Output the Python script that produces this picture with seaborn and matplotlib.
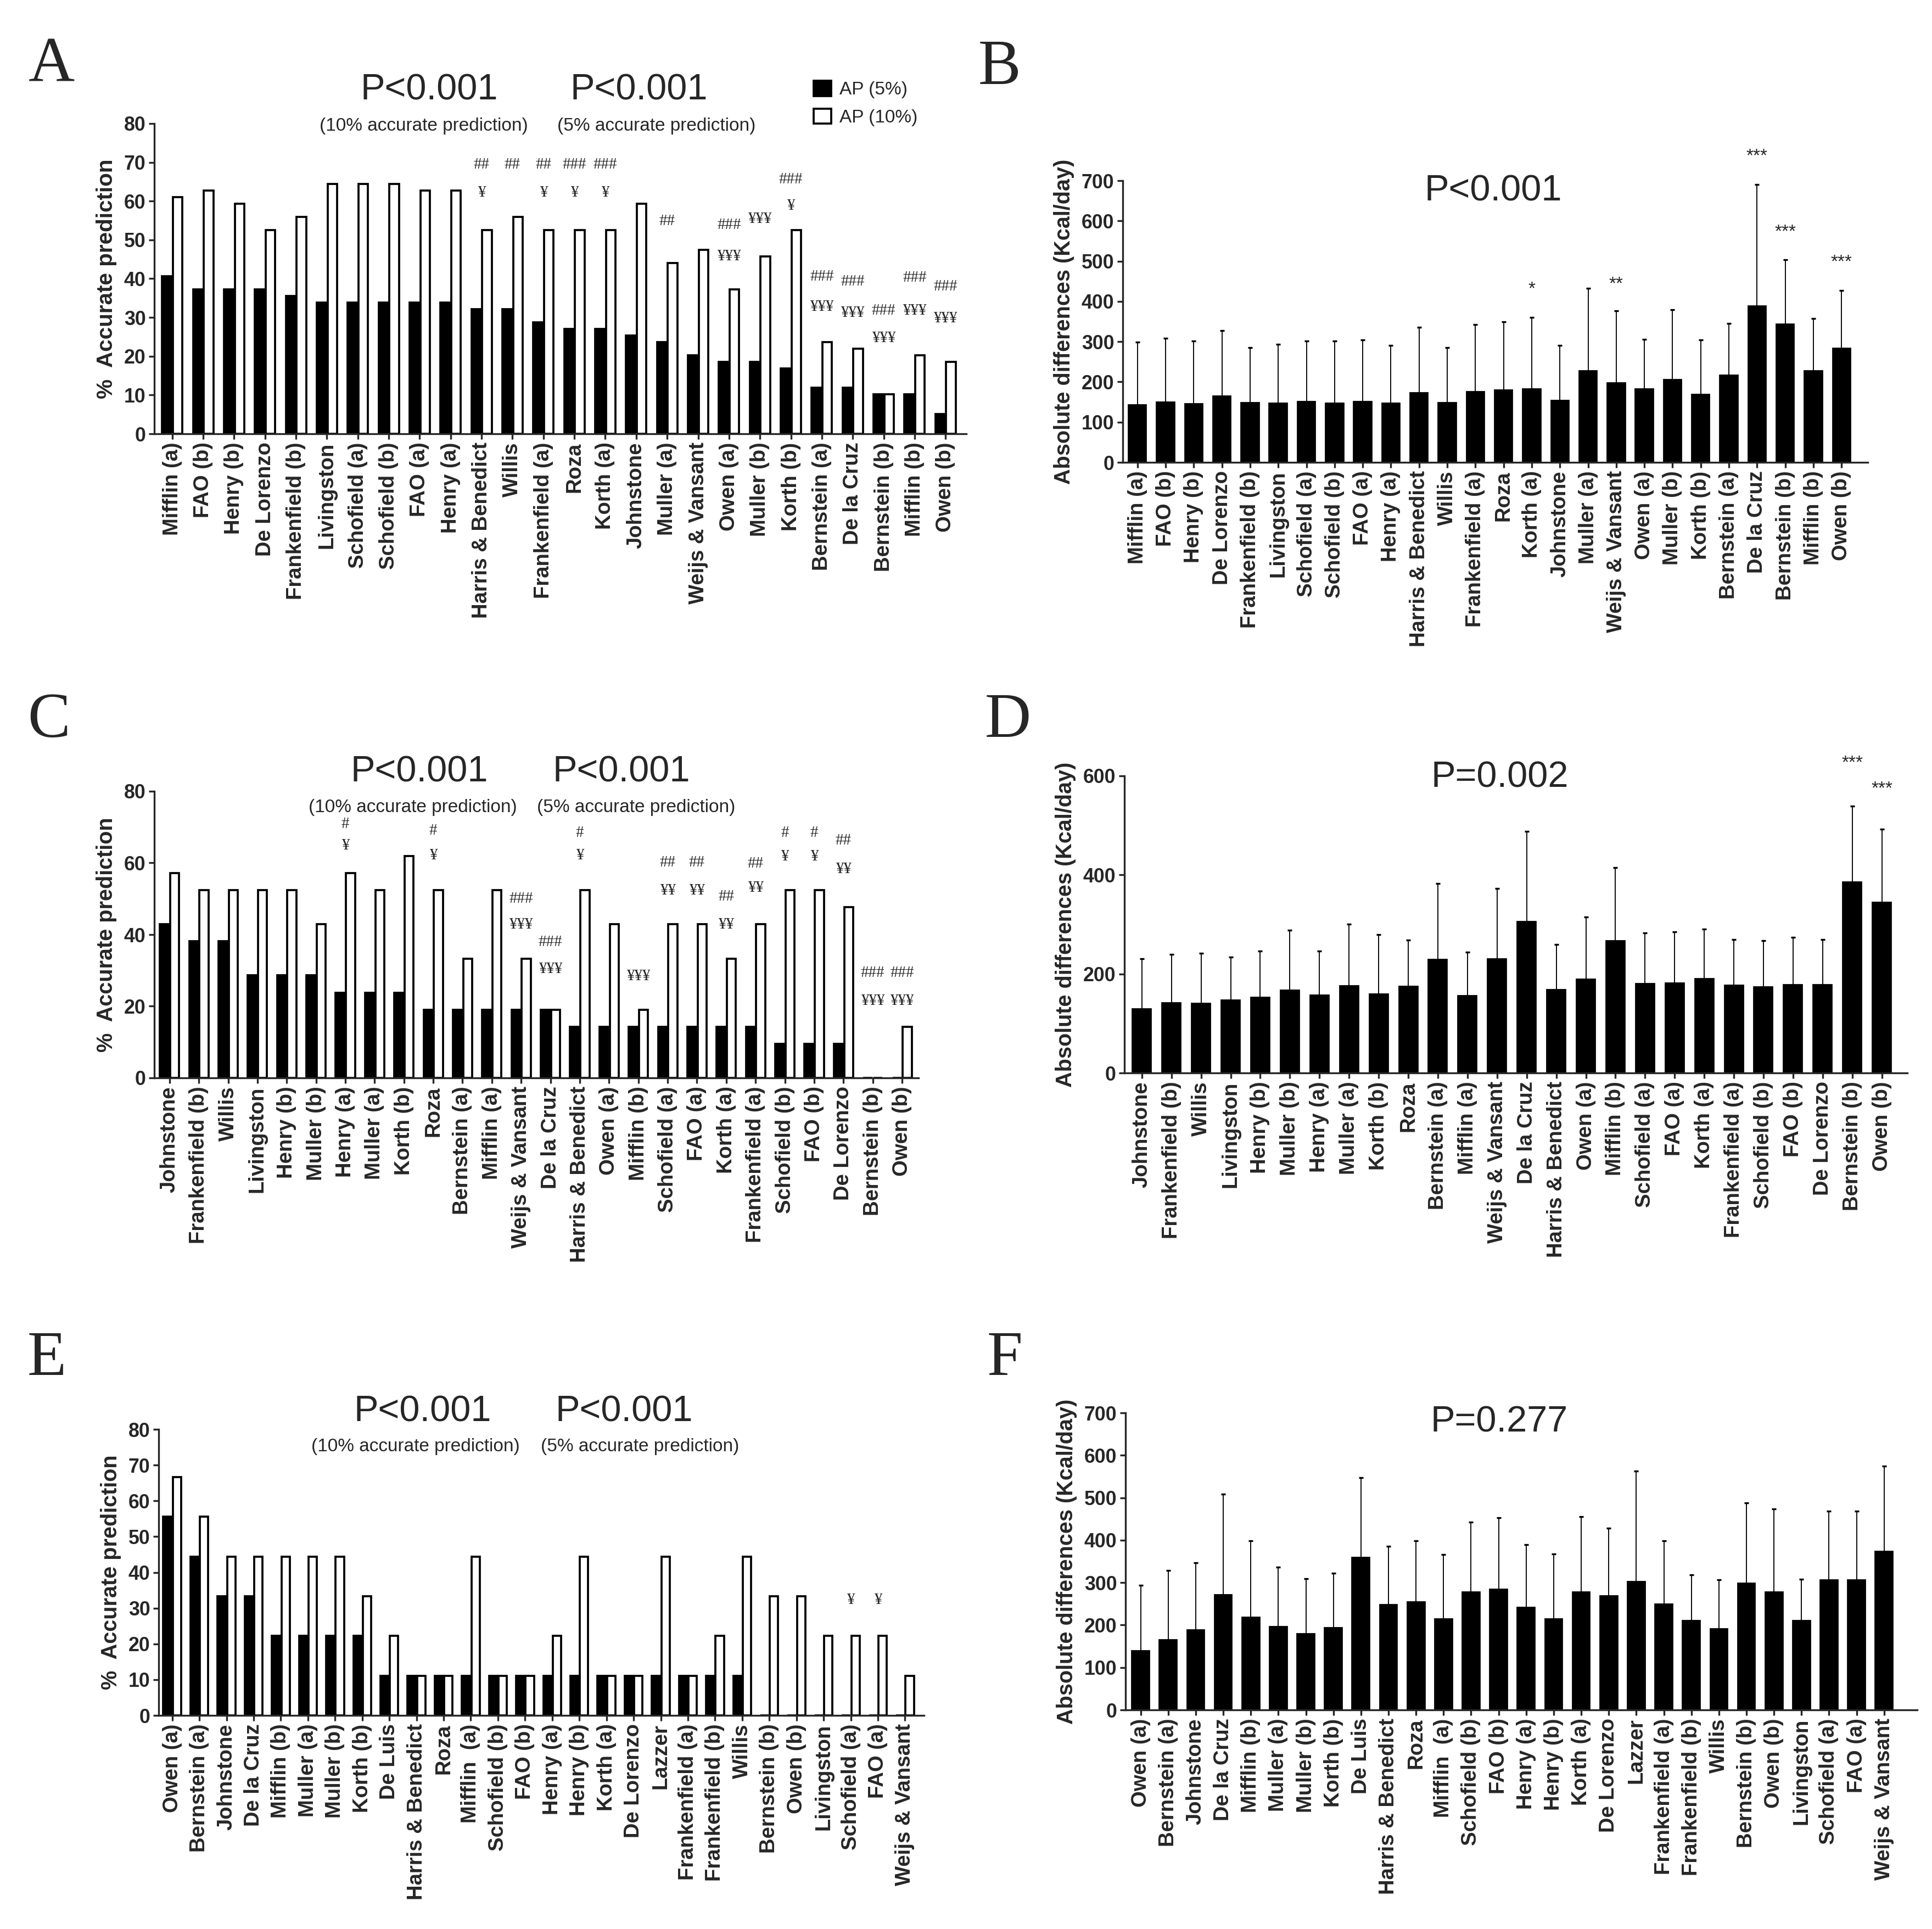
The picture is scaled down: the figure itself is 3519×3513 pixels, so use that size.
import numpy as np
import pandas as pd
import matplotlib
matplotlib.use('Agg')
import matplotlib.pyplot as plt
import seaborn as sns

# ---------------- data ----------------
SERIES = ['AP (5%)', 'AP (10%)']

eq_a = ["Mifflin (a)", "FAO (b)", "Henry (b)", "De Lorenzo", "Frankenfield (b)", "Livingston",
        "Schofield (a)", "Schofield (b)", "FAO (a)", "Henry (a)", "Harris & Benedict", "Willis",
        "Frankenfield (a)", "Roza", "Korth (a)", "Johnstone", "Muller (a)", "Weijs & Vansant",
        "Owen (a)", "Muller (b)", "Korth (b)", "Bernstein (a)", "De la Cruz", "Bernstein (b)",
        "Mifflin (b)", "Owen (b)"]
ap5_a = [40.7, 37.3, 37.3, 37.3, 35.6, 33.9, 33.9, 33.9, 33.9, 33.9, 32.2, 32.2, 28.8,
         27.1, 27.1, 25.4, 23.7, 20.3, 18.6, 18.6, 16.9, 11.9, 11.9, 10.2, 10.2, 5.1]
ap10_a = [61.0, 62.7, 59.3, 52.5, 55.9, 64.4, 64.4, 64.4, 62.7, 62.7, 52.5, 55.9, 52.5,
          52.5, 52.5, 59.3, 44.1, 47.5, 37.3, 45.8, 52.5, 23.7, 22.0, 10.2, 20.3, 18.6]
ann_a = [(10, '##', 69.4), (10, '¥', 62.2), (11, '##', 69.4), (12, '##', 69.4), (12, '¥', 62.2),
         (13, '###', 69.4), (13, '¥', 62.2), (14, '###', 69.4), (14, '¥', 62.2), (16, '##', 54.8),
         (18, '###', 53.8), (18, '¥¥¥', 45.7), (19, '¥¥¥', 55.4), (20, '###', 65.5), (20, '¥', 58.7),
         (21, '###', 40.5), (21, '¥¥¥', 32.7), (22, '###', 39.2), (22, '¥¥¥', 31.1),
         (23, '###', 31.7), (23, '¥¥¥', 24.6), (24, '###', 40.2), (24, '¥¥¥', 31.7),
         (25, '###', 37.9), (25, '¥¥¥', 29.8)]

mean_b = [142, 149, 145, 164, 148, 146, 150, 146, 150, 146, 172, 148, 175, 179, 182, 153,
          227, 197, 182, 205, 168, 216, 387, 342, 227, 282]
sd_b = [157, 160, 156, 163, 137, 147, 152, 156, 154, 144, 163, 137, 167, 170, 178, 137,
        206, 179, 123, 174, 136, 129, 303, 162, 130, 145]
stars_b = [(14, '*', 430), (17, '**', 442), (22, '***', 760), (23, '***', 572), (25, '***', 497)]

eq_c = ["Johnstone", "Frankenfield (b)", "Willis", "Livingston", "Henry (b)", "Muller (b)",
        "Henry (a)", "Muller (a)", "Korth (b)", "Roza", "Bernstein (a)", "Mifflin (a)",
        "Weijs & Vansant", "De la Cruz", "Harris & Benedict", "Owen (a)", "Mifflin (b)",
        "Schofield (a)", "FAO (a)", "Korth (a)", "Frankenfield (a)", "Schofield (b)", "FAO (b)",
        "De Lorenzo", "Bernstein (b)", "Owen (b)"]
ap5_c = [42.9, 38.1, 38.1, 28.6, 28.6, 28.6, 23.8, 23.8, 23.8, 19.0, 19.0, 19.0, 19.0,
         19.0, 14.3, 14.3, 14.3, 14.3, 14.3, 14.3, 14.3, 9.5, 9.5, 9.5, 0.0, 0.0]
ap10_c = [57.1, 52.4, 52.4, 52.4, 52.4, 42.9, 57.1, 52.4, 61.9, 52.4, 33.3, 52.4, 33.3,
          19.0, 52.4, 42.9, 19.0, 42.9, 42.9, 33.3, 42.9, 52.4, 52.4, 47.6, 0.0, 14.3]
ann_c = [(6, '#', 70.8), (6, '¥', 64.9), (9, '#', 69.0), (9, '¥', 62.0), (12, '###', 50.0),
         (12, '¥¥¥', 42.7), (13, '###', 37.9), (13, '¥¥¥', 30.3), (14, '#', 68.4), (14, '¥', 62.0),
         (16, '¥¥¥', 28.4), (17, '##', 60.1), (17, '¥¥', 52.2), (18, '##', 60.1), (18, '¥¥', 52.2),
         (19, '##', 50.6), (19, '¥¥', 42.7), (20, '##', 59.8), (20, '¥¥', 53.1), (21, '#', 68.4),
         (21, '¥', 61.7), (22, '#', 68.4), (22, '¥', 61.7), (23, '##', 66.2), (23, '¥¥', 58.2),
         (24, '###', 29.3), (24, '¥¥¥', 21.4), (25, '###', 29.3), (25, '¥¥¥', 21.4)]

mean_d = [129, 141, 140, 146, 152, 166, 156, 175, 159, 174, 228, 155, 230, 305, 167, 188,
          266, 180, 181, 190, 176, 173, 177, 177, 385, 344]
sd_d = [102, 99, 102, 88, 94, 122, 90, 125, 120, 94, 155, 89, 143, 183, 92, 127,
        149, 103, 104, 101, 94, 94, 97, 93, 154, 148]
stars_d = [(24, '***', 626), (25, '***', 574)]

eq_e = ["Owen (a)", "Bernstein (a)", "Johnstone", "De la Cruz", "Mifflin (b)", "Muller (a)",
        "Muller (b)", "Korth (b)", "De Luis", "Harris & Benedict", "Roza", "Mifflin  (a)",
        "Schofield (b)", "FAO (b)", "Henry (a)", "Henry (b)", "Korth (a)", "De Lorenzo", "Lazzer",
        "Frankenfield (a)", "Frankenfield (b)", "Willis", "Bernstein (b)", "Owen (b)",
        "Livingston", "Schofield (a)", "FAO (a)", "Weijs & Vansant"]
ap5_e = [55.6, 44.4, 33.3, 33.3, 22.2, 22.2, 22.2, 22.2, 11.1, 11.1, 11.1, 11.1, 11.1, 11.1,
         11.1, 11.1, 11.1, 11.1, 11.1, 11.1, 11.1, 11.1, 0.0, 0.0, 0.0, 0.0, 0.0, 0.0]
ap10_e = [66.7, 55.6, 44.4, 44.4, 44.4, 44.4, 44.4, 33.3, 22.2, 11.1, 11.1, 44.4, 11.1, 11.1,
          22.2, 44.4, 11.1, 11.1, 44.4, 11.1, 22.2, 44.4, 33.3, 33.3, 22.2, 22.2, 22.2, 11.1]
ann_e = [(25, '¥', 32.2), (26, '¥', 32.2)]

mean_f = [138, 164, 188, 270, 217, 195, 178, 193, 358, 247, 253, 214, 277, 284, 241, 214,
          277, 268, 302, 249, 210, 190, 297, 277, 210, 305, 305, 373]
sd_f = [156, 165, 159, 239, 181, 141, 131, 129, 189, 138, 146, 152, 166, 169, 148, 154,
        179, 160, 261, 150, 108, 117, 191, 197, 98, 163, 163, 201]

# ---------------- style ----------------
sns.set_style('ticks')
plt.rcParams['font.family'] = ['Liberation Sans', 'DejaVu Sans']
plt.rcParams['axes.linewidth'] = 0.8
SERIF = ['Liberation Serif', 'DejaVu Serif']

W, H = 3519, 3513
fig = plt.figure(figsize=(W / 300, H / 300), dpi=300)


def rect(left, right, top, bottom):
    return [left / W, 1 - bottom / H, (right - left) / W, (bottom - top) / H]


def ftext(x, y, s, **kw):
    fig.text(x / W, 1 - y / H, s, **kw)


def style_axis(ax, xlim, yticks, ylabel, ylabel_size=9.5):
    ax.set_xlim(*xlim)
    ax.set_ylim(yticks[0], yticks[-1])
    ax.set_yticks(yticks)
    ax.set_xlabel('')
    ax.set_ylabel(ylabel, fontsize=ylabel_size, fontweight='bold', labelpad=3)
    sns.despine(ax=ax)
    ax.tick_params(axis='both', length=2.5, width=0.8, pad=1.2)
    ax.tick_params(axis='x', labelrotation=90)
    for t in ax.get_xticklabels():
        t.set_fontsize(9.2)
        t.set_fontweight('bold')
    for t in ax.get_yticklabels():
        t.set_fontsize(8.6)
        t.set_fontweight('bold')


def accuracy_panel(box, eqs, ap5, ap10, xlim, yticks, ann, legend=False, ylabel_size=9.5):
    ax = fig.add_axes(rect(*box))
    n = len(eqs)
    df = pd.DataFrame({'eq': eqs * 2,
                       'series': [SERIES[0]] * n + [SERIES[1]] * n,
                       'value': ap5 + ap10})
    sns.barplot(data=df, x='eq', y='value', hue='series', order=eqs, hue_order=SERIES,
                palette={SERIES[0]: 'black', SERIES[1]: 'white'}, edgecolor='black',
                linewidth=0.9, width=0.7, gap=0.125, errorbar=None, legend=legend, ax=ax)
    style_axis(ax, xlim, yticks, '%  Accurate prediction', ylabel_size)
    for i, s, y in ann:
        ax.text(i, y, s, ha='center', va='center', fontsize=7, family=SERIF, clip_on=False)
    return ax


def diff_panel(box, eqs, mean, sd, xlim, yticks, stars):
    ax = fig.add_axes(rect(*box))
    df = pd.DataFrame({'eq': eqs, 'kind': 'mean', 'value': mean})
    sns.barplot(data=df, x='eq', y='value', hue='kind', order=eqs, hue_order=['mean', 'empty'],
                palette={'mean': 'black', 'empty': 'white'}, edgecolor='black', linewidth=0.9,
                width=0.7, gap=0.125, errorbar=None, legend=False, ax=ax)
    xc = np.sort([p.get_x() + p.get_width() / 2 for p in ax.patches])
    ax.errorbar(xc, mean, yerr=[np.zeros(len(mean)), sd], fmt='none', ecolor='black',
                elinewidth=0.45, capsize=1.0, capthick=0.8)
    style_axis(ax, xlim, yticks, 'Absolute differences (Kcal/day)')
    for i, s, y in stars:
        ax.text(xc[i], y, s, ha='center', va='center', fontsize=8, clip_on=False)
    return ax


ax_a = accuracy_panel((281, 1760, 225, 790), eq_a, ap5_a, ap10_a, (-0.58, 25.67),
                      np.arange(0, 81, 10), ann_a, legend=True, ylabel_size=9.7)
sns.move_legend(ax_a, 'upper left', bbox_to_anchor=(1482 / W, 1 - 147 / H),
                bbox_transform=fig.transFigure, frameon=False, title=None, fontsize=8,
                handlelength=0.95, handleheight=0.9, handletextpad=0.45, labelspacing=0.55,
                borderpad=0, borderaxespad=0)

diff_panel((2045, 3402, 329, 842), eq_a, mean_b, sd_b, (-0.52, 25.93),
           np.arange(0, 701, 100), stars_b)

accuracy_panel((281, 1673, 1441, 1963), eq_c, ap5_c, ap10_c, (-0.52, 25.56),
               np.arange(0, 81, 20), ann_c)

diff_panel((2048, 3474, 1413, 1954), eq_c, mean_d, sd_d, (-0.59, 25.86),
           np.arange(0, 601, 200), stars_d)

accuracy_panel((289, 1683, 2603, 3124), eq_e, ap5_e, ap10_e, (-0.5, 27.7),
               np.arange(0, 81, 10), ann_e)

diff_panel((2050, 3492, 2573, 3114), eq_e, mean_f, sd_f, (-0.55, 28.2),
           np.arange(0, 701, 100), [])

# p-values and subtitles
for x, y, s in [(782, 165, 'P<0.001'), (1164, 165, 'P<0.001'), (2720, 349, 'P<0.001'),
                (764, 1407, 'P<0.001'), (1132, 1407, 'P<0.001'), (2732, 1417, 'P=0.002'),
                (770, 2571, 'P<0.001'), (1137, 2571, 'P<0.001'), (2731, 2590, 'P=0.277')]:
    ftext(x, y, s, ha='center', va='center', fontsize=16)

for x, y, s in [(772, 229, '(10% accurate prediction)'), (1196, 229, '(5% accurate prediction)'),
                (752, 1470, '(10% accurate prediction)'), (1159, 1470, '(5% accurate prediction)'),
                (757, 2634, '(10% accurate prediction)'), (1166, 2634, '(5% accurate prediction)')]:
    ftext(x, y, s, ha='center', va='center', fontsize=8)

# panel letters
for x, y, s in [(52, 149, 'A'), (1782, 153, 'B'), (50, 1342, 'C'), (1794, 1342, 'D'),
                (50, 2504, 'E'), (1798, 2504, 'F')]:
    ftext(x, y, s, ha='left', va='baseline', fontsize=28, family=SERIF)

fig.savefig('out.png', dpi=300)
